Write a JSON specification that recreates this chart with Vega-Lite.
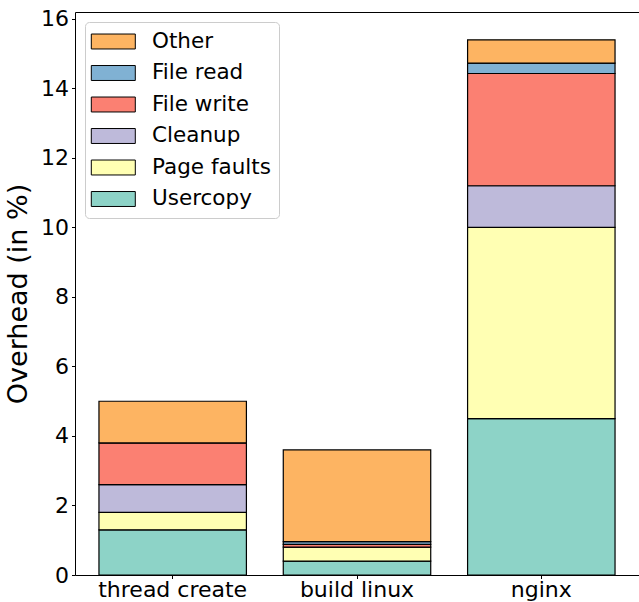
{
  "$schema": "https://vega.github.io/schema/vega-lite/v6.json",
  "width": 564,
  "height": 563,
  "padding": {"left": 4, "top": 7, "right": 1, "bottom": 0},
  "autosize": {"type": "pad"},
  "config": {
    "font": "DejaVu Sans",
    "view": {"stroke": "black", "strokeWidth": 1},
    "axis": {"domain": false, "grid": false, "tickColor": "black", "labelColor": "black", "titleColor": "black"}
  },
  "data": {
    "values": [
      {"workload": "thread create", "component": "Usercopy", "value": 1.3, "ord": 1},
      {"workload": "thread create", "component": "Page faults", "value": 0.5, "ord": 2},
      {"workload": "thread create", "component": "Cleanup", "value": 0.8, "ord": 3},
      {"workload": "thread create", "component": "File write", "value": 1.2, "ord": 4},
      {"workload": "thread create", "component": "File read", "value": 0.0, "ord": 5},
      {"workload": "thread create", "component": "Other", "value": 1.2, "ord": 6},
      {"workload": "build linux", "component": "Usercopy", "value": 0.4, "ord": 1},
      {"workload": "build linux", "component": "Page faults", "value": 0.4, "ord": 2},
      {"workload": "build linux", "component": "Cleanup", "value": 0.0, "ord": 3},
      {"workload": "build linux", "component": "File write", "value": 0.08, "ord": 4},
      {"workload": "build linux", "component": "File read", "value": 0.08, "ord": 5},
      {"workload": "build linux", "component": "Other", "value": 2.64, "ord": 6},
      {"workload": "nginx", "component": "Usercopy", "value": 4.5, "ord": 1},
      {"workload": "nginx", "component": "Page faults", "value": 5.5, "ord": 2},
      {"workload": "nginx", "component": "Cleanup", "value": 1.2, "ord": 3},
      {"workload": "nginx", "component": "File write", "value": 3.23, "ord": 4},
      {"workload": "nginx", "component": "File read", "value": 0.3, "ord": 5},
      {"workload": "nginx", "component": "Other", "value": 0.67, "ord": 6}
    ]
  },
  "mark": {"type": "bar", "stroke": "black", "strokeWidth": 1.2},
  "encoding": {
    "x": {
      "field": "workload",
      "type": "nominal",
      "sort": ["thread create", "build linux", "nginx"],
      "scale": {"paddingInner": 0.2, "paddingOuter": 0.13},
      "axis": {"title": null, "labelAngle": 0, "labelFontSize": 22, "tickSize": 3.5, "labelPadding": 1}
    },
    "y": {
      "field": "value",
      "type": "quantitative",
      "stack": "zero",
      "scale": {"domain": [0, 16.2], "nice": false},
      "axis": {"title": "Overhead (in %)", "titleFontSize": 27, "titleFontWeight": "normal", "labelFontSize": 22, "values": [0, 2, 4, 6, 8, 10, 12, 14, 16], "tickSize": 3.5, "labelPadding": 3, "titlePadding": 8}
    },
    "order": {"field": "ord", "type": "quantitative"},
    "color": {
      "field": "component",
      "type": "nominal",
      "scale": {
        "domain": ["Other", "File read", "File write", "Cleanup", "Page faults", "Usercopy"],
        "range": ["#fdb462", "#80b1d3", "#fb8072", "#bebada", "#ffffb3", "#8dd3c7"]
      },
      "legend": {
        "title": null,
        "orient": "top-left",
        "offset": 10,
        "labelFontSize": 21.5,
        "labelColor": "black",
        "symbolType": "M-1.2,-0.68H2.8V0.68H-1.2Z",
        "symbolSize": 484,
        "symbolStrokeColor": "black",
        "symbolStrokeWidth": 1,
        "symbolOpacity": 1,
        "rowPadding": 9.5,
        "labelOffset": 36,
        "padding": 8,
        "fillColor": "white",
        "strokeColor": "#cccccc",
        "cornerRadius": 4
      }
    }
  }
}
